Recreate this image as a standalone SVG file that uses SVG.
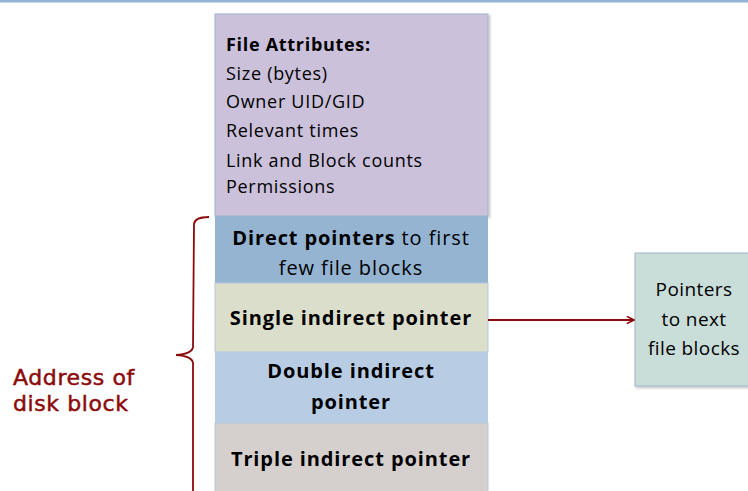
<svg xmlns="http://www.w3.org/2000/svg" width="748" height="491" viewBox="0 0 748 491">
  <defs>
    <style>
      .t { font-family: "Open Sans", "Liberation Sans", sans-serif; fill: #000; }
      .attr { font-size: 18px; letter-spacing: 0.7px; }
      .b { font-weight: bold; }
      .cell { font-size: 20px; letter-spacing: 0.9px; text-anchor: middle; }
      .side { font-size: 19px; letter-spacing: 0.4px; }
      .note { font-family: "DejaVu Sans", sans-serif; font-size: 22px; letter-spacing: 0.6px; fill: #8b0a0a; stroke: #8b0a0a; stroke-width: 0.5; }
      .edge { stroke: #8b0a0a; stroke-width: 1.8; fill: none; }
    </style>
    <marker id="arrow" viewBox="0 0 10 10" refX="9" refY="5" markerWidth="9" markerHeight="9" orient="auto" markerUnits="userSpaceOnUse">
      <path d="M1,1 L9,5 L1,9" fill="none" stroke="#8b0a0a" stroke-width="1.8"/>
    </marker>
    <filter id="sh" x="-5%" y="-5%" width="110%" height="110%">
      <feDropShadow dx="1.5" dy="1.5" stdDeviation="1" flood-color="#000" flood-opacity="0.25"/>
    </filter>
  </defs>

  <rect x="0" y="0" width="748" height="2.5" fill="#94b3d0"/>

  <!-- inode column -->
  <g id="attributes">
    <rect x="215" y="14" width="273" height="202" fill="#cbc1da" stroke="#9fb5cc" stroke-width="1" filter="url(#sh)"/>
    <text class="t attr b" x="226" y="51">File Attributes:</text>
    <text class="t attr" x="226" y="80">Size (bytes)</text>
    <text class="t attr" x="226" y="108">Owner UID/GID</text>
    <text class="t attr" x="226" y="137">Relevant times</text>
    <text class="t attr" x="226" y="167">Link and Block counts</text>
    <text class="t attr" x="226" y="193">Permissions</text>
  </g>
  <g id="direct">
    <rect x="215" y="216" width="273" height="67" fill="#94b4d2"/>
    <text class="t cell" x="351" y="245"><tspan class="b">Direct pointers</tspan> to first</text>
    <text class="t cell" x="351" y="275">few file blocks</text>
  </g>
  <g id="single">
    <rect x="215" y="283" width="273" height="69" fill="#dcdecc" stroke="#b8c8da" stroke-width="1"/>
    <text class="t cell b" x="351" y="325">Single indirect pointer</text>
  </g>
  <g id="double">
    <rect x="215" y="352" width="273" height="71" fill="#b8cde4"/>
    <text class="t cell b" x="351" y="378">Double indirect</text>
    <text class="t cell b" x="351" y="409">pointer</text>
  </g>
  <g id="triple">
    <rect x="215" y="423" width="273" height="70" fill="#d5d0ce" stroke="#b8c8da" stroke-width="1"/>
    <text class="t cell b" x="351" y="466">Triple indirect pointer</text>
  </g>

  <g id="next-blocks">
    <rect x="635" y="253" width="120" height="133" fill="#c9ddd9" stroke="#9fb5cc" stroke-width="1" filter="url(#sh)"/>
    <text class="t cell side" x="694" y="296">Pointers</text>
    <text class="t cell side" x="694" y="326">to next</text>
    <text class="t cell side" x="694" y="355">file blocks</text>
  </g>

  <g id="address-label">
    <path class="edge" d="M209,217 Q195,217 194,224 L193,347 Q192,354 176,355 Q192,356 193,363 L193,491"/>
    <text class="note" x="13" y="385">Address of</text>
    <text class="note" x="13" y="411">disk block</text>
  </g>

  <g id="connectors">
    <line class="edge" x1="488" y1="320" x2="634" y2="320" marker-end="url(#arrow)"/>
  </g>
</svg>
